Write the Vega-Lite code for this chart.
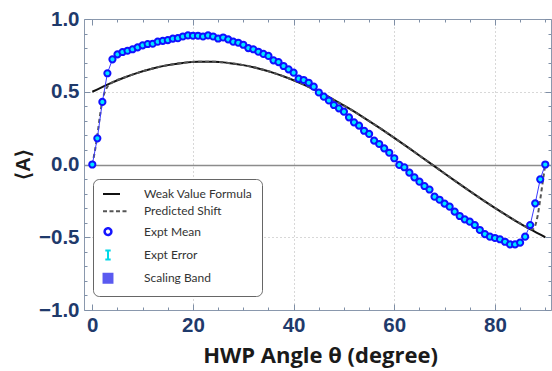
{
  "$schema": "https://vega.github.io/schema/vega-lite/v6.json",
  "width": 467,
  "height": 291,
  "autosize": "none",
  "padding": {"left": 84, "top": 19, "right": 1, "bottom": 61},
  "background": "white",
  "config": {"view": {"stroke": null}},
  "datasets": {
    "wv": [
      {"t": 0, "v": 0.5}, {"t": 3, "v": 0.5495}, {"t": 6, "v": 0.593}, {"t": 9, "v": 0.63}, {"t": 12, "v": 0.6601},
      {"t": 15, "v": 0.683}, {"t": 18, "v": 0.6984}, {"t": 21, "v": 0.7061}, {"t": 24, "v": 0.7061}, {"t": 27, "v": 0.6984},
      {"t": 30, "v": 0.683}, {"t": 33, "v": 0.6601}, {"t": 36, "v": 0.63}, {"t": 39, "v": 0.593}, {"t": 42, "v": 0.5495},
      {"t": 45, "v": 0.5}, {"t": 48, "v": 0.445}, {"t": 51, "v": 0.3851}, {"t": 54, "v": 0.321}, {"t": 57, "v": 0.2534},
      {"t": 60, "v": 0.183}, {"t": 63, "v": 0.1106}, {"t": 66, "v": 0.037}, {"t": 69, "v": -0.037}, {"t": 72, "v": -0.1106},
      {"t": 75, "v": -0.183}, {"t": 78, "v": -0.2534}, {"t": 81, "v": -0.321}, {"t": 84, "v": -0.3851}, {"t": 87, "v": -0.445},
      {"t": 90, "v": -0.5}
    ],
    "ps": [
      {"t": 0, "v": 0}, {"t": 0.5, "v": 0.09}, {"t": 1, "v": 0.2}, {"t": 1.5, "v": 0.33}, {"t": 2, "v": 0.44},
      {"t": 2.5, "v": 0.5}, {"t": 3, "v": 0.535}, {"t": 4, "v": 0.565}, {"t": 6, "v": 0.593}, {"t": 9, "v": 0.63},
      {"t": 12, "v": 0.6601}, {"t": 15, "v": 0.683}, {"t": 18, "v": 0.6984}, {"t": 21, "v": 0.7061}, {"t": 24, "v": 0.7061},
      {"t": 27, "v": 0.6984}, {"t": 30, "v": 0.683}, {"t": 33, "v": 0.6601}, {"t": 36, "v": 0.63}, {"t": 39, "v": 0.593},
      {"t": 42, "v": 0.5495}, {"t": 45, "v": 0.5}, {"t": 48, "v": 0.445}, {"t": 51, "v": 0.3851}, {"t": 54, "v": 0.321},
      {"t": 57, "v": 0.2534}, {"t": 60, "v": 0.183}, {"t": 63, "v": 0.1106}, {"t": 66, "v": 0.037}, {"t": 69, "v": -0.037},
      {"t": 72, "v": -0.1106}, {"t": 75, "v": -0.183}, {"t": 78, "v": -0.2534}, {"t": 81, "v": -0.321}, {"t": 84, "v": -0.3851},
      {"t": 85, "v": -0.405}, {"t": 86, "v": -0.425}, {"t": 87, "v": -0.445}, {"t": 87.5, "v": -0.445}, {"t": 88, "v": -0.42},
      {"t": 88.5, "v": -0.35}, {"t": 89, "v": -0.24}, {"t": 89.5, "v": -0.12}, {"t": 90, "v": 0}
    ],
    "m": [
      {"t": 0, "v": 0.0}, {"t": 1, "v": 0.18}, {"t": 2, "v": 0.43}, {"t": 3, "v": 0.627}, {"t": 4, "v": 0.723},
      {"t": 5, "v": 0.757}, {"t": 6, "v": 0.773}, {"t": 7, "v": 0.782}, {"t": 8, "v": 0.792}, {"t": 9, "v": 0.805},
      {"t": 10, "v": 0.819}, {"t": 11, "v": 0.828}, {"t": 12, "v": 0.83}, {"t": 13, "v": 0.844}, {"t": 14, "v": 0.85},
      {"t": 15, "v": 0.855}, {"t": 16, "v": 0.865}, {"t": 17, "v": 0.868}, {"t": 18, "v": 0.88}, {"t": 19, "v": 0.887},
      {"t": 20, "v": 0.885}, {"t": 21, "v": 0.885}, {"t": 22, "v": 0.88}, {"t": 23, "v": 0.887}, {"t": 24, "v": 0.88},
      {"t": 25, "v": 0.866}, {"t": 26, "v": 0.873}, {"t": 27, "v": 0.86}, {"t": 28, "v": 0.844}, {"t": 29, "v": 0.837},
      {"t": 30, "v": 0.823}, {"t": 31, "v": 0.8}, {"t": 32, "v": 0.792}, {"t": 33, "v": 0.775}, {"t": 34, "v": 0.76},
      {"t": 35, "v": 0.746}, {"t": 36, "v": 0.716}, {"t": 37, "v": 0.704}, {"t": 38, "v": 0.677}, {"t": 39, "v": 0.654},
      {"t": 40, "v": 0.631}, {"t": 41, "v": 0.59}, {"t": 42, "v": 0.581}, {"t": 43, "v": 0.562}, {"t": 44, "v": 0.535},
      {"t": 45, "v": 0.495}, {"t": 46, "v": 0.466}, {"t": 47, "v": 0.44}, {"t": 48, "v": 0.409}, {"t": 49, "v": 0.386},
      {"t": 50, "v": 0.363}, {"t": 51, "v": 0.324}, {"t": 52, "v": 0.29}, {"t": 53, "v": 0.267}, {"t": 54, "v": 0.232},
      {"t": 55, "v": 0.21}, {"t": 56, "v": 0.164}, {"t": 57, "v": 0.141}, {"t": 58, "v": 0.111}, {"t": 59, "v": 0.081},
      {"t": 60, "v": 0.043}, {"t": 61, "v": -0.003}, {"t": 62, "v": -0.019}, {"t": 63, "v": -0.056}, {"t": 64, "v": -0.088},
      {"t": 65, "v": -0.118}, {"t": 66, "v": -0.148}, {"t": 67, "v": -0.172}, {"t": 68, "v": -0.221}, {"t": 69, "v": -0.242},
      {"t": 70, "v": -0.269}, {"t": 71, "v": -0.29}, {"t": 72, "v": -0.324}, {"t": 73, "v": -0.354}, {"t": 74, "v": -0.377},
      {"t": 75, "v": -0.393}, {"t": 76, "v": -0.416}, {"t": 77, "v": -0.45}, {"t": 78, "v": -0.478}, {"t": 79, "v": -0.496},
      {"t": 80, "v": -0.505}, {"t": 81, "v": -0.514}, {"t": 82, "v": -0.531}, {"t": 83, "v": -0.549}, {"t": 84, "v": -0.549},
      {"t": 85, "v": -0.537}, {"t": 86, "v": -0.496}, {"t": 87, "v": -0.416}, {"t": 88, "v": -0.267}, {"t": 89, "v": -0.102},
      {"t": 90, "v": 0.0}
    ]
  },
  "resolve": {"axis": {"x": "independent", "y": "independent"}},
  "layer": [
    {
      "data": {"name": "wv"},
      "mark": {"type": "line", "strokeWidth": 2, "interpolate": "monotone"},
      "encoding": {
        "x": {
          "field": "t", "type": "quantitative",
          "scale": {"domain": [-1.65, 91.14], "nice": false, "zero": false},
          "axis": {
            "orient": "bottom", "values": [0, 20, 40, 60, 80], "ticks": false, "domain": true,
            "domainColor": "#8a98ad", "domainWidth": 1,
            "labelFont": "Liberation Sans", "labelFontWeight": "bold", "labelFontSize": 20.5, "labelColor": "#1f3a6b", "labelPadding": 5,
            "grid": true, "gridColor": "#b0b0b0", "gridDash": [1, 3],
            "gridOpacity": {"condition": {"test": "datum.value === 0", "value": 0}, "value": 1},
            "title": "HWP Angle θ  (degree)", "titleFont": "Open Sans", "titleFontWeight": "bold", "titleFontSize": 22,
            "titleColor": "#1a1a1a", "titleX": 236, "titleY": 45, "titleBaseline": "middle", "titleAlign": "center"
          }
        },
        "y": {
          "field": "v", "type": "quantitative",
          "scale": {"domain": [-1, 1], "nice": false, "zero": false},
          "axis": {
            "orient": "left", "values": [-1, -0.5, 0, 0.5, 1], "format": ".1f", "ticks": false, "domain": true,
            "domainColor": "#8a98ad", "domainWidth": 1,
            "labelFont": "Liberation Sans", "labelFontWeight": "bold", "labelFontSize": 20.5, "labelColor": "#1f3a6b", "labelPadding": 5,
            "grid": true,
            "gridColor": {"condition": {"test": "datum.value === 0", "value": "#8c8c8c"}, "value": "#b0b0b0"},
            "gridDash": {"condition": {"test": "datum.value === 0", "value": []}, "value": [1, 3]},
            "gridOpacity": {"condition": {"test": "abs(datum.value) === 1", "value": 0}, "value": 1},
            "gridWidth": {"condition": {"test": "datum.value === 0", "value": 1.3}, "value": 1},
            "title": "⟨A⟩", "titleFont": "Liberation Sans", "titleFontWeight": "bold", "titleFontSize": 20, "titleColor": "#1a1a1a",
            "titleAngle": -90, "titleX": -61, "titleY": 145, "titleAlign": "center", "titleBaseline": "middle"
          }
        },
        "color": {
          "datum": "Weak Value Formula", "type": "nominal",
          "scale": {
            "domain": ["Weak Value Formula", "Predicted Shift", "Expt Mean", "Expt Error", "Scaling Band"],
            "range": ["#111111", "#555555", "#1515ff", "#00d8e8", "#5a5af0"]
          },
          "legend": {
            "orient": "none", "legendX": 9, "legendY": 160, "title": null,
            "padding": 9, "strokeColor": "#666666", "fillColor": "#ffffff", "cornerRadius": 6,
            "labelFont": "Lato", "labelFontSize": 12, "labelColor": "#333333",
            "rowPadding": 5.3, "symbolSize": 625, "labelOffset": 14, "symbolStrokeWidth": 2,
            "encode": {
              "symbols": {
                "update": {
                  "shape": {"signal": "datum.value === 'Expt Mean' ? 'circle' : datum.value === 'Scaling Band' ? 'square' : datum.value === 'Expt Error' ? 'M-0.6,-1H0.6M0,-1V1M-0.6,1H0.6' : 'stroke'"},
                  "size": {"signal": "datum.value === 'Predicted Shift' ? 625 : datum.value === 'Weak Value Formula' ? 289 : datum.value === 'Expt Mean' ? 45 : datum.value === 'Expt Error' ? 81 : 80"},
                  "x": {"signal": "datum.value === 'Predicted Shift' ? 13.5 : datum.value === 'Weak Value Formula' ? 9.5 : 6"},
                  "stroke": {"signal": "datum.value === 'Expt Mean' ? '#1515ff' : datum.value === 'Expt Error' ? '#00d8e8' : datum.value === 'Scaling Band' ? '#4b4bef' : '#222222'"},
                  "fill": {"signal": "datum.value === 'Scaling Band' ? '#5a5af0' : 'transparent'"},
                  "strokeWidth": {"signal": "datum.value === 'Expt Mean' ? 2.5 : 2"},
                  "strokeDash": {"signal": "datum.value === 'Predicted Shift' ? [4, 2.5] : [1, 0]"},
                  "opacity": {"value": 1}
                }
              },
              "labels": {
                "update": {
                  "x": {"value": 42}
                }
              }
            }
          }
        }
      }
    },
    {
      "data": {"name": "ps"},
      "mark": {"type": "line", "strokeWidth": 2, "strokeDash": [4, 3], "interpolate": "monotone"},
      "encoding": {
        "x": {
          "field": "t", "type": "quantitative",
          "axis": {
            "orient": "bottom", "values": [0, 5, 10, 15, 20, 25, 30, 35, 40, 45, 50, 55, 60, 65, 70, 75, 80, 85, 90],
            "labels": false, "domain": false, "grid": false, "ticks": true, "tickColor": "#7f8fa6", "tickWidth": 1,
            "tickSize": {"condition": {"test": "datum.value % 20 === 0", "value": -6}, "value": -3},
            "title": null
          }
        },
        "y": {
          "field": "v", "type": "quantitative",
          "axis": {
            "orient": "left", "values": [-1, -0.9, -0.8, -0.7, -0.6, -0.5, -0.4, -0.3, -0.2, -0.1, 0, 0.1, 0.2, 0.3, 0.4, 0.5, 0.6, 0.7, 0.8, 0.9, 1],
            "labels": false, "domain": false, "grid": false, "ticks": true, "tickColor": "#7f8fa6", "tickWidth": 1,
            "tickSize": {"condition": {"test": "abs(datum.value * 2 - round(datum.value * 2)) < 0.001", "value": -6}, "value": -3},
            "title": null
          }
        },
        "color": {"datum": "Predicted Shift", "type": "nominal"}
      }
    },
    {
      "data": {"name": "m"},
      "mark": {"type": "line", "color": "#3a3aff", "strokeWidth": 1},
      "encoding": {
        "x": {
          "field": "t", "type": "quantitative",
          "axis": {
            "orient": "top", "values": [0, 5, 10, 15, 20, 25, 30, 35, 40, 45, 50, 55, 60, 65, 70, 75, 80, 85, 90],
            "labels": false, "domain": true, "domainColor": "#8a98ad", "grid": false, "ticks": true, "tickColor": "#7f8fa6", "tickWidth": 1,
            "tickSize": {"condition": {"test": "datum.value % 20 === 0", "value": -6}, "value": -3},
            "title": null
          }
        },
        "y": {
          "field": "v", "type": "quantitative",
          "axis": {
            "orient": "right", "values": [-1, -0.9, -0.8, -0.7, -0.6, -0.5, -0.4, -0.3, -0.2, -0.1, 0, 0.1, 0.2, 0.3, 0.4, 0.5, 0.6, 0.7, 0.8, 0.9, 1],
            "labels": false, "domain": true, "domainColor": "#8a98ad", "grid": false, "ticks": true, "tickColor": "#7f8fa6", "tickWidth": 1,
            "tickSize": {"condition": {"test": "abs(datum.value * 2 - round(datum.value * 2)) < 0.001", "value": -6}, "value": -3},
            "title": null
          }
        }
      }
    },
    {
      "data": {"name": "m"},
      "mark": {"type": "point", "filled": true, "fill": "#00e5ff", "stroke": "#1010ff", "strokeWidth": 2, "size": 38, "opacity": 1},
      "encoding": {
        "x": {"field": "t", "type": "quantitative", "axis": null},
        "y": {"field": "v", "type": "quantitative", "axis": null}
      }
    }
  ]
}
